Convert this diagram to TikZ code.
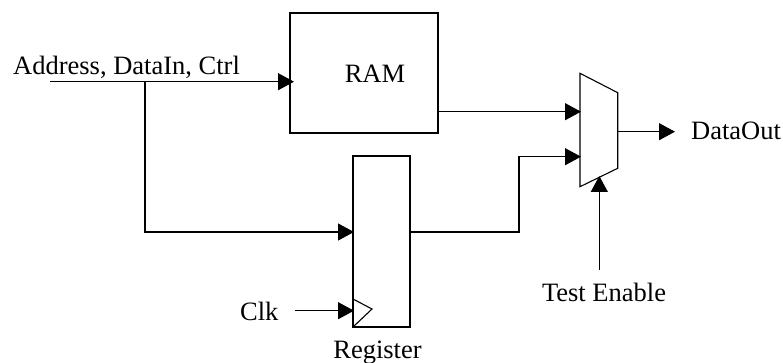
\documentclass[tikz,border=0pt]{standalone}
\usepackage{fontspec}
\setmainfont{Liberation Serif}
\usetikzlibrary{arrows.meta}
\begin{document}
\begin{tikzpicture}[x=1pt,y=-1pt,
  wire/.style={line width=1.1pt},
  arr/.style={wire,-{Triangle[length=16pt,width=17pt]}},
  blk/.style={draw,line width=1.1pt,rectangle,inner sep=0pt},
  lbl/.style={inner sep=0pt,font=\fontsize{26.5}{30}\selectfont}]
\useasboundingbox (0,0) rectangle (783,363);
% blocks
\node[blk,minimum width=148pt,minimum height=120pt] (ram) at (364,73) {};
\node[lbl,anchor=base] (ramtxt) at (375,83) {RAM};
\node[blk,minimum width=57pt,minimum height=171pt] (reg) at (381.5,241.5) {};
\node[lbl,anchor=base] (regtxt) at (377.5,358) {Register};
% clock triangle
\coordinate (ck1) at (353,299);
\coordinate (ck2) at (372,309);
\coordinate (ck3) at (353,327);
\draw[wire,line join=miter] (ck1) -- (ck2) -- (ck3);
% mux
\coordinate (m1) at (580,73.3);
\coordinate (m2) at (617.7,92.7);
\coordinate (m3) at (617.7,168.3);
\coordinate (m4) at (580,186.7);
\draw[wire,line join=miter] (m1) -- (m2) -- (m3) -- (m4) -- cycle;
% input
\node[lbl,anchor=base west] (addr) at (13,75) {Address, DataIn, Ctrl};
\coordinate (in) at (50,81.7);
\coordinate (br) at (145,81.7);
\coordinate (ramin) at (294,81.7);
\draw[arr] (in) -- (ramin);
\coordinate (regin) at (354,232);
\draw[arr] (br) |- (regin);
% register output to mux
\coordinate (regout) at (410,232);
\coordinate (muxb) at (581,156.7);
\draw[arr] (regout) -- (519,232) |- (muxb);
% ram output
\coordinate (ramout) at (438,111.7);
\coordinate (muxa) at (581,111.7);
\draw[arr] (ramout) -- (muxa);
% mux output
\coordinate (muxout) at (617.7,131.7);
\coordinate (dout) at (675,131.7);
\draw[arr] (muxout) -- (dout);
\node[lbl,anchor=base west] (douttxt) at (691,140) {DataOut};
% select
\coordinate (selbot) at (599.3,270);
\coordinate (seltop) at (599.3,176);
\draw[arr] (selbot) -- (seltop);
\node[lbl,anchor=base] (te) at (604,301.7) {Test Enable};
% clock
\coordinate (clkin) at (295,310.7);
\coordinate (clkreg) at (354,310.7);
\draw[arr] (clkin) -- (clkreg);
\node[lbl,anchor=base west] (clk) at (240,320) {Clk};
\end{tikzpicture}
\end{document}
